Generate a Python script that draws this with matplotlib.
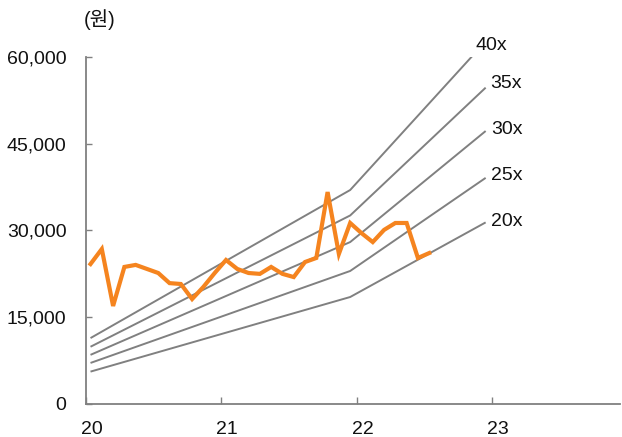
import matplotlib
matplotlib.use("Agg")
import matplotlib.pyplot as plt
from matplotlib.ticker import FuncFormatter

plt.rcParams['font.family'] = ['Liberation Sans', 'Noto Sans CJK KR', 'DejaVu Sans']

# --- data ---
year_labels = ["20", "21", "22", "23"]
price_months = [i + 0.4 for i in range(31)]
price = [24200, 26800, 16950, 23700, 24050, 23350, 22650, 20900, 20750, 18150,
         20250, 22650, 24900, 23350, 22650, 22500, 23700, 22500, 21950, 24550,
         25250, 36650, 25950, 31300, 29550, 28000, 30100, 31300, 31300, 25250, 26100]

band_months = [0.4, 23.4, 35.4]
band_labels = ["40x", "35x", "30x", "25x", "20x"]
band_40x = [11400, 37000, 62700]
band_35x = [9900, 32600, 54700]
band_30x = [8500, 28000, 47200]
band_25x = [7100, 23000, 39100]
band_20x = [5600, 18500, 31400]
bands = [band_40x, band_35x, band_30x, band_25x, band_20x]

# --- figure ---
fig = plt.figure(figsize=(6.22, 4.37), dpi=100)
ax = fig.add_axes([86/622, 1-404/437, (620-86)/622, (404-57)/437])

gray = "#808080"
for vals in bands:
    ax.plot(band_months, vals, color=gray, lw=1.4, solid_capstyle='butt')
ax.plot(price_months, price, color="#F5841F", lw=3.0, solid_joinstyle='miter')

ax.set_xlim(0, 47.3)
ax.set_ylim(0, 60000)

label_pos = [(476, 45), (490, 83), (491, 130), (491, 176), (491, 221)]
for lab, (px, py) in zip(band_labels, label_pos):
    ax.annotate(lab, xy=(px/622, 1-py/437), xycoords='figure fraction',
                ha='left', va='center', fontsize=14, color='#111111')

ax.set_yticks([0, 15000, 30000, 45000, 60000])
ax.yaxis.set_major_formatter(FuncFormatter(lambda v, p: f"{int(v):,}"))
ax.set_xticks([0, 12, 24, 36])
ax.set_xticklabels([])
ax.set_xticks([0.5, 12.5, 24.5, 36.5], minor=True)
ax.set_xticklabels(year_labels, minor=True)

ax.tick_params(axis='y', direction='in', length=4, width=1.0, color=gray,
               labelsize=14, pad=14, labelcolor='#111111')
ax.tick_params(axis='x', which='major', direction='in', length=5, width=1.0, color=gray)
ax.tick_params(axis='x', which='minor', length=0, labelsize=14, pad=12, labelcolor='#111111')

for s in ['top', 'right']:
    ax.spines[s].set_visible(False)
for s in ['left', 'bottom']:
    ax.spines[s].set_color(gray)
    ax.spines[s].set_linewidth(1.3)

fig.text(100/622, 1-20/437, "(원)", ha='center', va='center', fontsize=14.5, color='#111111')

fig.savefig("out.png", dpi=100)
